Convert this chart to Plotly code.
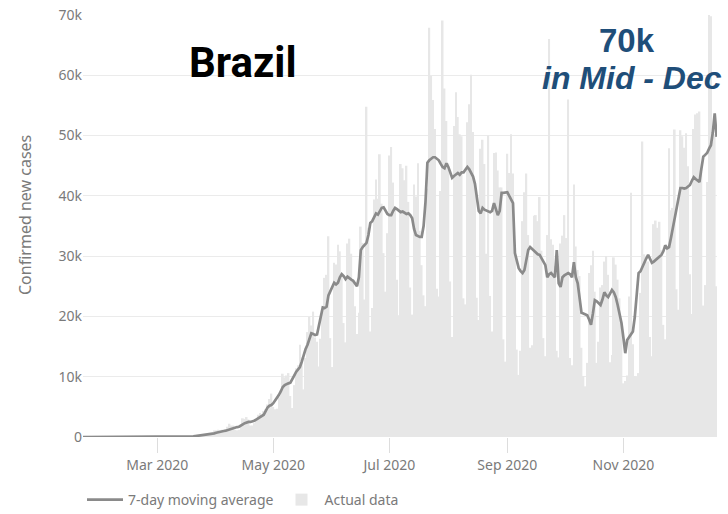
import pandas as pd
import plotly.graph_objects as go

# ---------------- data (thousands of confirmed new cases per day) ----------------
start_date = "2020-01-22"

daily_jan = [0, 0, 0, 0, 0, 0, 0, 0, 0, 0]
daily_feb = [0, 0, 0, 0, 0, 0, 0, 0, 0, 0, 0, 0, 0, 0, 0, 0, 0, 0, 0, 0,
             0, 0, 0, 0, 0, 0.001, 0, 0, 0.001]
daily_mar = [0, 0, 0, 0, 0.001, 0.005, 0.005, 0.006, 0.005, 0.006, 0.018, 0.018, 0.025, 0.023,
             0.03, 0.04, 0.07, 0.06, 0.1, 0.16, 0.2, 0.18, 0.3, 0.24, 0.27, 0.45, 0.5, 0.5,
             0.35, 0.3, 1.1]
daily_apr = [1.1, 1.2, 1.1, 1.2, 0.85, 0.9, 1.7, 2.2, 1.9, 1.9,
             1.2, 1.1, 1.2, 1.8, 3.1, 3.0, 3.3, 2.9, 1.9, 1.9,
             2.3, 2.7, 3.7, 4.0, 3.5, 4.3, 4.6, 5.4, 6.3, 7.2]
daily_may = [5.0, 4.6, 4.7, 6.6, 6.9, 10.5, 9.9, 10.2, 10.6, 6.8,
             4.8, 8.6, 11.4, 11.9, 15.3, 13.2, 7.9, 13.1, 17.4, 19.9,
             18.5, 20.8, 16.5, 15.8, 11.7, 16.3, 20.6, 26.4, 26.9, 33.3, 16.4]
daily_jun = [11.6, 28.9, 28.6, 31.9, 30.8, 27.1, 18.9, 15.7, 32.1, 32.9,
             30.4, 25.9, 21.7, 17.1, 20.6, 34.9, 32.2, 22.8, 54.8, 34.7,
             17.5, 21.4, 39.4, 42.7, 39.5, 46.9, 38.7, 30.5, 24.1, 33.8]
daily_jul = [46.7, 48.1, 42.2, 37.9, 26.1, 20.2, 45.3, 44.6, 42.6, 45.0,
             39.0, 24.8, 20.3, 41.9, 39.9, 45.4, 34.2, 28.5, 23.5, 21.7,
             41.2, 67.9, 59.9, 55.9, 51.1, 24.6, 23.3, 40.8, 69.1, 57.8, 52.4]
daily_aug = [45.4, 25.8, 16.6, 51.6, 57.2, 53.1, 50.2, 49.9, 23.0, 22.0,
             52.2, 55.2, 60.1, 50.6, 41.6, 23.1, 19.4, 47.8, 49.3, 45.3,
             30.4, 50.0, 23.4, 17.5, 47.1, 47.2, 44.2, 41.4, 41.4, 16.2, 12.5]
daily_sep = [47.0, 43.8, 50.2, 43.7, 30.2, 14.5, 10.3, 14.3, 35.8, 40.6,
             43.7, 33.5, 14.8, 15.2, 36.7, 36.8, 35.8, 39.8, 30.9, 16.4,
             13.4, 33.5, 66.0, 32.8, 31.9, 28.4, 14.3, 13.2, 32.1, 33.4]
daily_oct = [36.8, 33.0, 56.0, 13.1, 11.9, 41.9, 31.6, 27.7, 26.7, 14.8,
             10.1, 8.4, 12.3, 27.2, 28.5, 30.9, 24.1, 12.3, 15.8, 24.8,
             25.2, 29.1, 30.0, 26.9, 12.4, 13.6, 29.8, 28.6, 26.1, 23.0, 18.9]
daily_nov = [8.9, 9.3, 10.2, 23.3, 40.5, 15.4, 10.1, 10.0, 10.6, 23.9,
             49.0, 30.3, 29.1, 29.1, 16.6, 13.4, 35.3, 35.9, 34.7, 35.7,
             31.0, 18.6, 16.2, 31.1, 47.9, 37.6, 38.0, 51.0, 24.5, 21.1]
daily_dec = [50.9, 49.9, 48.0, 50.4, 44.9, 27.0, 20.4, 51.1, 53.5, 53.7,
             54.0, 43.9, 21.8, 25.2, 42.3, 70.6, 69.8, 48.9, 50.2, 25.0]

avg_jan = [0, 0, 0, 0, 0, 0, 0, 0, 0, 0]
avg_feb = [0, 0, 0, 0, 0, 0, 0, 0, 0, 0, 0, 0, 0, 0, 0, 0, 0, 0, 0, 0,
           0, 0, 0, 0, 0, 0, 0, 0, 0]
avg_mar = [0, 0, 0, 0, 0, 0, 0, 0, 0, 0, 0.01, 0.01, 0.01, 0.02, 0.03, 0.04, 0.05, 0.06,
           0.08, 0.1, 0.14, 0.18, 0.22, 0.26, 0.3, 0.33, 0.37, 0.41, 0.45, 0.5, 0.6]
avg_apr = [0.7, 0.8, 0.9, 0.95, 1.0, 1.05, 1.15, 1.3, 1.45, 1.55,
           1.6, 1.65, 1.7, 1.85, 2.1, 2.3, 2.45, 2.5, 2.5, 2.55,
           2.7, 2.9, 3.1, 3.3, 3.5, 3.7, 4.3, 4.9, 5.2, 5.3]
avg_may = [5.6, 6.0, 6.5, 7.0, 7.6, 8.3, 8.6, 8.8, 8.9, 9.0,
           9.5, 10.2, 10.8, 11.3, 11.6, 12.5, 13.6, 14.6, 15.3, 16.3,
           17.2, 17.1, 16.9, 17.0, 18.5, 20.2, 21.5, 21.4, 21.6, 23.5, 24.3]
avg_jun = [25.0, 25.6, 25.3, 25.6, 26.5, 27.0, 26.7, 26.2, 26.6, 26.3,
           26.1, 25.9, 25.5, 25.0, 26.5, 31.0, 31.5, 31.8, 32.2, 33.5,
           35.5, 35.8, 36.6, 37.1, 36.9, 37.5, 38.0, 38.1, 37.6, 37.0]
avg_jul = [36.8, 36.8, 37.5, 38.0, 37.8, 37.5, 37.3, 37.4, 37.2, 37.0,
           37.1, 36.8, 36.3, 34.5, 33.5, 33.3, 33.2, 33.2, 35.0, 39.0,
           45.5, 45.9, 46.2, 46.4, 46.4, 46.1, 45.9, 45.3, 44.8, 44.6, 45.4]
avg_aug = [44.8, 44.0, 43.0, 43.3, 43.5, 43.8, 43.5, 43.9, 43.9, 44.3,
           44.8, 44.4, 43.8, 43.2, 42.0, 39.5, 37.5, 37.1, 38.0, 37.7,
           37.6, 37.4, 37.3, 37.5, 38.8, 37.8, 36.8, 37.5, 40.5, 40.5, 40.6]
avg_sep = [40.6, 40.0, 39.3, 38.8, 30.5, 29.3, 28.0, 27.5, 27.2, 27.7,
           29.5, 31.0, 31.5, 31.2, 30.8, 30.5, 30.3, 30.2, 29.6, 29.0,
           28.5, 26.5, 27.0, 27.2, 26.8, 26.5, 31.0, 25.5, 24.9, 26.5]
avg_oct = [26.8, 27.0, 27.2, 27.0, 26.5, 29.0, 26.5, 25.5, 23.0, 20.6,
           20.5, 20.4, 20.2, 19.5, 18.6, 20.5, 22.7, 22.5, 22.2, 21.9,
           22.8, 24.0, 23.5, 23.2, 23.8, 24.4, 24.0, 23.2, 21.9, 20.5, 18.9]
avg_nov = [16.5, 13.9, 16.1, 16.5, 16.9, 17.5, 19.9, 24.0, 27.2, 27.5,
           28.3, 28.9, 29.6, 30.2, 29.5, 28.9, 29.1, 29.4, 29.7, 29.9,
           30.2, 30.8, 31.8, 31.3, 31.5, 33.0, 34.8, 36.5, 38.1, 39.8]
avg_dec = [41.3, 41.3, 41.2, 41.3, 41.5, 41.8, 42.5, 43.1, 42.8, 42.5,
           42.3, 44.5, 46.5, 46.8, 47.1, 47.8, 48.4, 50.5, 53.7, 49.8]

tick_dates = ["2020-03-01", "2020-05-01", "2020-07-01", "2020-09-01", "2020-11-01"]
tick_labels = ["Mar 2020", "May 2020", "Jul 2020", "Sep 2020", "Nov 2020"]
y_ticks = [0, 10000, 20000, 30000, 40000, 50000, 60000, 70000]

# ---------------- assemble ----------------
daily = (daily_jan + daily_feb + daily_mar + daily_apr + daily_may + daily_jun +
         daily_jul + daily_aug + daily_sep + daily_oct + daily_nov + daily_dec)
avg = (avg_jan + avg_feb + avg_mar + avg_apr + avg_may + avg_jun +
       avg_jul + avg_aug + avg_sep + avg_oct + avg_nov + avg_dec)
daily_dates = pd.date_range(start_date, periods=len(daily), freq="D")
avg_dates = pd.date_range(start_date, periods=len(avg), freq="D")
daily_vals = [v * 1000 for v in daily]
avg_vals = [v * 1000 for v in avg]

FONT = "Noto Sans"
GREY_TXT = "#7a7a7a"

W, H = 728, 514
ML, MR, MT, MB = 83, 11, 15, 77

fig = go.Figure()
fig.add_trace(go.Scatter(
    x=avg_dates, y=avg_vals, mode="lines", name="7-day moving average",
    line=dict(color="#8a8a8a", width=2.7),
))
fig.add_trace(go.Bar(
    x=daily_dates, y=daily_vals, name="Actual data",
    marker=dict(color="#e7e7e7", line=dict(width=0)),
))

fig.update_layout(
    width=W, height=H,
    margin=dict(l=ML, r=MR, t=MT, b=MB, autoexpand=False),
    paper_bgcolor="white", plot_bgcolor="white",
    bargap=0.08,
    font=dict(family=FONT, size=14, color=GREY_TXT),
    showlegend=True,
    legend=dict(orientation="h", xref="container", yref="container",
                x=82 / W, xanchor="left", y=1 - 500 / H, yanchor="middle",
                itemwidth=36,
                font=dict(family=FONT, size=14, color=GREY_TXT), traceorder="normal"),
    xaxis=dict(
        type="date",
        range=["2020-01-22", "2020-12-20 05:00"],
        tickvals=tick_dates, ticktext=tick_labels,
        ticks="outside", ticklen=15, tickcolor="#dddddd", tickwidth=1,
        showgrid=False, showline=False, zeroline=False, automargin=False,
        tickfont=dict(family=FONT, size=14, color=GREY_TXT),
    ),
    yaxis=dict(
        range=[0, 70000], tickvals=y_ticks, tickformat="~s",
        showgrid=True, gridcolor="#ebebeb", gridwidth=1,
        zeroline=False, showline=False, ticks="", automargin=False,
        ticklabeloverflow="allow",
        tickfont=dict(family=FONT, size=14, color=GREY_TXT),
    ),
)

PH = H - MT - MB      # plot height in px
PW = W - ML - MR      # plot width in px


def px(xp):   # page x pixel -> paper x
    return (xp - ML) / PW


def py(yp):   # page y pixel -> paper y
    return (H - MB - yp) / PH


fig.add_annotation(text="Confirmed new cases", xref="paper", yref="paper",
                   x=px(25), y=py(215), xanchor="center", yanchor="middle",
                   textangle=-90, showarrow=False,
                   font=dict(family=FONT, size=16, color=GREY_TXT))
fig.add_annotation(text="<b>Brazil</b>", xref="paper", yref="paper",
                   x=px(243), y=py(63), xanchor="center", yanchor="middle",
                   showarrow=False, font=dict(family="Roboto", size=42, color="black"))
fig.add_annotation(text="<b>70k</b>", xref="paper", yref="paper",
                   x=px(626.5), y=py(41), xanchor="center", yanchor="middle",
                   showarrow=False,
                   font=dict(family="Liberation Sans", size=33, color="#1f4e79"))
fig.add_annotation(text="<b><i>in Mid - Dec</i></b>", xref="paper", yref="paper",
                   x=px(632), y=py(78.5), xanchor="center", yanchor="middle",
                   showarrow=False,
                   font=dict(family="Liberation Sans", size=32, color="#1f4e79"))

# remove the browser's default 8px body margin so the figure sits at (0, 0)
fig.write_html("out.html",
               config={"displayModeBar": False},
               post_script="document.body.style.margin='0px';")
